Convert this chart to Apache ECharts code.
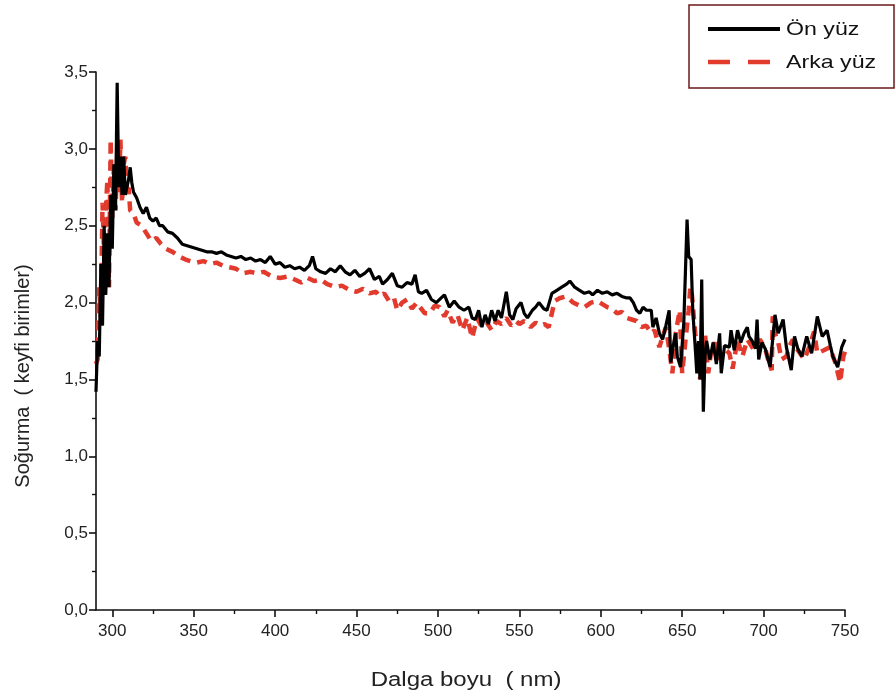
<!DOCTYPE html>
<html>
<head>
<meta charset="utf-8">
<script src="https://cdn.jsdelivr.net/npm/echarts@6/dist/echarts.min.js"></script>
<style>
  html, body { margin: 0; padding: 0; background: #fff; }
  #chart { width: 896px; height: 697px; }
</style>
</head>
<body>
<div id="chart"></div>
<script>
// Absorption spectra of the front ("Ön yüz") and back ("Arka yüz") faces
const onYuzX = [290,291,292,293,294,295,296,297,298,299,300,301,302,303,304,305,306,307,308,309,310,311,312,313,315,317,319,321,323,325,327,329,331,334,337,340,343,346,349,352,355,358,361,364,367,370,373,376,379,382,385,388,391,394,397,400,403,406,409,412,415,418,421,423,425,428,431,434,437,440,443,446,449,452,455,458,461,464,466,469,472,475,478,481,484,486,488,490,493,496,499,502,504,507,510,513,516,519,521,523,525,527,529,531,533,535,537,539,542,544,546,548,551,553,555,558,560,562,565,567,570,573,576,579,581,584,587,590,593,595,598,601,604,607,610,613,616,618,620,622,624,626,628,631,632,634,636,638,640,642,643,645,646,647,649,651,652,653,654,655.5,656.5,658,659,660,661,662,663,664,665,667,669,671,673,674,676,679,680,682,684,686,688,690,691,693,695,696,697,699,701,704,707,709,712,714,717,719,721,723.5,726.5,729.5,733,736,739,741,742.5,745.5,748,750];
const onYuzY = [1.42,1.75,1.65,2.25,1.85,2.5,2.05,2.45,2.1,2.7,2.35,2.9,2.6,3.43,2.75,2.95,2.7,2.95,2.7,2.75,2.8,2.88,2.78,2.72,2.68,2.62,2.58,2.62,2.55,2.53,2.55,2.5,2.5,2.46,2.45,2.42,2.38,2.37,2.36,2.35,2.34,2.33,2.33,2.32,2.33,2.31,2.3,2.29,2.3,2.28,2.29,2.27,2.28,2.26,2.3,2.25,2.26,2.23,2.24,2.22,2.23,2.21,2.24,2.3,2.22,2.2,2.19,2.22,2.2,2.24,2.2,2.18,2.21,2.17,2.19,2.22,2.15,2.17,2.12,2.15,2.19,2.11,2.1,2.13,2.12,2.18,2.07,2.06,2.08,2.02,2.0,2.03,2.05,1.97,2.01,1.97,1.95,1.97,1.9,1.89,1.95,1.84,1.92,1.86,1.95,1.88,1.95,1.9,2.07,1.92,1.89,1.96,2.0,1.93,1.9,1.95,1.97,2.0,1.96,1.95,2.06,2.08,2.1,2.12,2.14,2.1,2.08,2.06,2.07,2.05,2.08,2.06,2.07,2.05,2.06,2.04,2.03,2.03,2.0,1.95,1.93,1.97,1.95,1.95,1.84,1.9,1.8,1.76,1.85,1.95,1.61,1.75,1.8,1.65,1.58,1.87,2.2,2.54,2.3,2.28,1.95,1.71,1.54,1.75,1.5,2.15,1.29,1.65,1.75,1.63,1.74,1.6,1.8,1.54,1.72,1.71,1.82,1.69,1.82,1.74,1.8,1.84,1.78,1.75,1.7,1.89,1.63,1.74,1.7,1.58,1.92,1.8,1.89,1.71,1.56,1.78,1.7,1.65,1.78,1.67,1.91,1.78,1.82,1.72,1.65,1.58,1.71,1.76];

const arkaYuzX = [290,291,292,293,294,295,296,297,298,299,300,301,302,303,304,305,306,307,308,309,310,311,313,315,318,321,324,327,330,333,337,341,345,348,352,356,360,364,368,372,376,380,385,389,393,398,403,408,412,416,420,424,428,432,437,441,446,450,454,458,462,464,467,470,473,475,478,481,484,487,489,492,495,498,501,504,506,509,512,515,518,521,524,527,530,533,536,539,542,545,548,550,553,557,560,563,565.5,568,571.7,575,579,583,587,590,594,598,601,604,607,610,613,616,619,622,625,628,631,633,636,638,640,642,644,646,648.5,650,652,654,655,656,658,660,661,663,664,666,668,670,673,676,679,681,684,687,690,693.6,697.7,701,703,705,705.6,707,709,711,714,716,718,721,725,728,731,733,737,740.7,744,747,749,750];
const arkaYuzY = [1.6,1.63,2.1,1.9,2.65,2.3,2.6,2.8,2.1,3.06,2.55,2.9,2.6,2.95,2.7,3.06,2.65,2.9,2.95,2.7,2.75,2.6,2.58,2.52,2.5,2.45,2.4,2.42,2.38,2.35,2.33,2.3,2.28,2.27,2.26,2.27,2.25,2.26,2.24,2.23,2.22,2.19,2.2,2.19,2.2,2.17,2.16,2.17,2.15,2.13,2.16,2.14,2.15,2.12,2.1,2.11,2.08,2.07,2.09,2.06,2.07,2.04,2.06,2.01,2.03,1.95,2.0,2.02,1.96,2.0,1.97,1.93,1.93,1.98,1.97,1.91,1.95,1.87,1.92,1.82,1.9,1.77,1.9,1.84,1.87,1.82,1.88,1.86,1.9,1.85,1.88,1.86,1.88,1.84,1.87,1.85,1.86,1.84,2.01,2.03,2.04,2.0,1.98,1.97,2.0,2.01,1.99,1.97,1.96,1.93,1.94,1.9,1.89,1.88,1.84,1.85,1.8,1.82,1.71,1.78,1.84,1.7,1.54,1.8,1.95,1.54,1.75,1.95,2.1,2.05,1.8,1.65,1.5,1.68,1.8,1.54,1.7,1.74,1.63,1.7,1.67,1.57,1.76,1.65,1.76,1.7,1.76,1.7,1.62,1.56,1.91,1.8,1.74,1.63,1.65,1.72,1.76,1.69,1.63,1.71,1.81,1.67,1.69,1.71,1.61,1.48,1.65,1.68];

// Axis ticks
const xMajorTicks = [300,350,400,450,500,550,600,650,700,750];
const xMinorTicks = [325,375,425,475,525,575,625,675,725];
const yTicks = [0,0.5,1.0,1.5,2.0,2.5,3.0,3.5];

const seriesNames = ['Ön yüz', 'Arka yüz'];
const xTitle = 'Dalga boyu  ( nm)';
const yTitle = 'Soğurma  ( keyfi birimler)';

const BLACK = '#000';
const RED = '#e23b2e';
const FONT = 'Liberation Sans, Arial, sans-serif';

const zip = (xs, ys) => xs.map((x, i) => [x, ys[i]]);

const chart = echarts.init(document.getElementById('chart'), null, { renderer: 'canvas' });

const baseX = {
  type: 'value', min: 290, max: 750,
  splitLine: { show: false },
  axisLine: { show: false }
};

// Legend box drawn in the upper right corner
const legendLeft = 689, legendTop = 5;
const legendGraphic = {
  type: 'group', x: legendLeft, y: legendTop,
  children: [
    { type: 'rect', shape: { x: 0, y: 0, width: 205, height: 83 },
      style: { fill: '#fff', stroke: '#6a1a1a', lineWidth: 1.5 } },
    { type: 'line', shape: { x1: 19, y1: 24, x2: 91, y2: 24 },
      style: { stroke: BLACK, lineWidth: 4 } },
    { type: 'text', x: 97, y: 25, scaleX: 1.22,
      style: { text: seriesNames[0], fill: '#111', font: '19px ' + FONT, verticalAlign: 'middle' } },
    { type: 'line', shape: { x1: 19, y1: 57, x2: 81, y2: 57 },
      style: { stroke: RED, lineWidth: 4.5, lineDash: [22, 18] } },
    { type: 'text', x: 97, y: 58, scaleX: 1.22,
      style: { text: seriesNames[1], fill: '#111', font: '19px ' + FONT, verticalAlign: 'middle' } }
  ]
};

chart.setOption({
  animation: false,
  backgroundColor: '#fff',
  grid: { left: 96, right: 51, top: 72, bottom: 87, containLabel: false },
  xAxis: [
    Object.assign({}, baseX, {
      position: 'bottom',
      axisLine: { show: true, onZero: false, lineStyle: { color: '#111', width: 1.6 } },
      axisTick: { show: true, length: 7, lineStyle: { color: '#111', width: 1.6 }, customValues: xMajorTicks },
      axisLabel: { show: true, margin: 13, color: '#222', fontSize: 17, fontFamily: FONT, customValues: xMajorTicks }
    }),
    Object.assign({}, baseX, {
      position: 'bottom',
      axisTick: { show: true, length: 4, lineStyle: { color: '#111', width: 1.4 }, customValues: xMinorTicks },
      axisLabel: { show: false }
    })
  ],
  yAxis: {
    type: 'value', min: 0, max: 3.5, interval: 0.5,
    splitLine: { show: false },
    axisLine: { show: true, onZero: false, lineStyle: { color: '#111', width: 1.6 } },
    axisTick: { show: true, length: 7, lineStyle: { color: '#111', width: 1.6 } },
    minorTick: { show: true, splitNumber: 2, length: 4, lineStyle: { color: '#111', width: 1.4 } },
    axisLabel: {
      margin: 8, color: '#222', fontSize: 17, fontFamily: FONT,
      formatter: v => yTicks.includes(v) ? v.toFixed(1).replace('.', ',') : ''
    }
  },
  graphic: [
    {
      type: 'text', x: 23, y: 376, rotation: Math.PI / 2,
      style: { text: yTitle, fill: '#222', font: '20px ' + FONT, align: 'center', verticalAlign: 'middle' }
    },
    {
      type: 'text', x: 466, y: 680, scaleX: 1.2, originX: 0, originY: 0,
      style: { text: xTitle, fill: '#222', font: '20px ' + FONT, align: 'center', verticalAlign: 'middle' }
    },
    legendGraphic
  ],
  series: [
    {
      name: seriesNames[1], type: 'line',
      data: zip(arkaYuzX, arkaYuzY),
      showSymbol: false, symbol: 'none',
      lineStyle: { color: RED, width: 4.5, type: [10, 7], cap: 'butt' },
      z: 2
    },
    {
      name: seriesNames[0], type: 'line',
      data: zip(onYuzX, onYuzY),
      showSymbol: false, symbol: 'none',
      lineStyle: { color: BLACK, width: 3.2 },
      z: 3
    }
  ]
});
</script>
</body>
</html>
